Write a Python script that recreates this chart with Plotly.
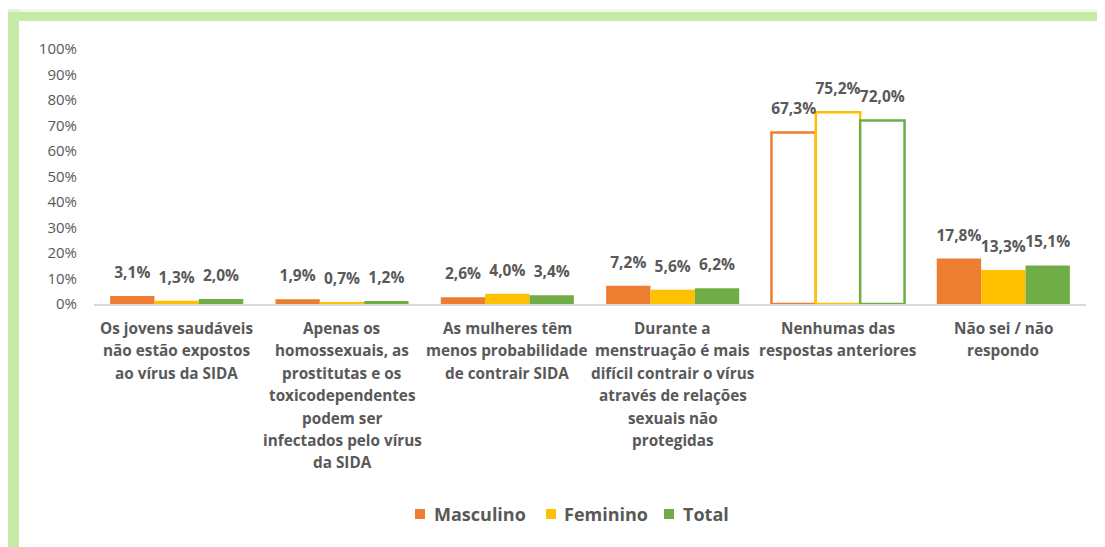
import plotly.graph_objects as go

categories = [
    "Os jovens saudáveis não estão expostos ao vírus da SIDA",
    "Apenas os homossexuais, as prostitutas e os toxicodependentes podem ser infectados pelo vírus da SIDA",
    "As mulheres têm menos probabilidade de contrair SIDA",
    "Durante a menstruação é mais difícil contrair o vírus através de relações sexuais não protegidas",
    "Nenhumas das respostas anteriores",
    "Não sei / não respondo",
]
category_lines = [
    ["Os jovens saudáveis", "não estão expostos", "ao vírus da SIDA"],
    ["Apenas os", "homossexuais, as", "prostitutas e os", "toxicodependentes", "podem ser", "infectados pelo vírus", "da SIDA"],
    ["As mulheres têm", "menos probabilidade", "de contrair SIDA"],
    ["Durante a", "menstruação é mais", "difícil contrair o vírus", "através de relações", "sexuais não", "protegidas"],
    ["Nenhumas das", "respostas anteriores"],
    ["Não sei / não", "respondo"],
]
series_names = ["Masculino", "Feminino", "Total"]
masculino = [3.1, 1.9, 2.6, 7.2, 67.3, 17.8]
feminino = [1.3, 0.7, 4.0, 5.6, 75.2, 13.3]
total = [2.0, 1.2, 3.4, 6.2, 72.0, 15.1]
tick_vals = [0, 10, 20, 30, 40, 50, 60, 70, 80, 90, 100]
tick_text = [f"{v}%" for v in tick_vals]

series_values = [masculino, feminino, total]
colors = ["#ED7D31", "#FFC000", "#70AD47"]
outlined_index = 4
gray = "#595959"
FONT = "Open Sans"

# page offset (body margin) and pixel layout in page coordinates
OFF = 8
W, H = 1105 - OFF, 547 - OFF
PL, PR, PT, PB = 94, 1086, 49, 304   # plot area in page pixels
ML, MT = PL - OFF, PT - OFF
MR = W - (PR - OFF)
MB = H - (PB - OFF)
PW = PR - PL
PH = PB - PT

def px_x(px):
    return (px - PL) / PW

def px_y(py):
    return (PB - py) / PH

fig = go.Figure()

for name, vals, col in zip(series_names, series_values, colors):
    fills = ["white" if i == outlined_index else col for i in range(len(vals))]
    lw = [2.5 if i == outlined_index else 0 for i in range(len(vals))]
    fig.add_trace(go.Bar(
        name=name, x=categories, y=vals,
        marker=dict(color=fills, line=dict(color=col, width=lw)),
        offsetgroup=name, alignmentgroup="a",
        showlegend=False, hoverinfo="skip",
    ))

for name, vals, col in zip(series_names, series_values, colors):
    fig.add_trace(go.Scatter(
        x=categories, y=vals, mode="markers+text",
        text=[f"{v:.1f}%".replace(".", ",") for v in vals],
        textposition="top center",
        textfont=dict(family=FONT, size=15.5, color=gray, weight="bold"),
        marker=dict(size=21, opacity=0),
        offsetgroup=name, alignmentgroup="a",
        showlegend=False, hoverinfo="skip", cliponaxis=False,
    ))

annotations = []
for cat, lines in zip(categories, category_lines):
    for i, line in enumerate(lines):
        annotations.append(dict(
            x=cat, y=0, xref="x", yref="paper", text=line, showarrow=False,
            yanchor="middle", xanchor="center", yshift=-24 - 22.4 * i,
            font=dict(family=FONT, size=15.3, color=gray, weight="bold"),
        ))

glow = "#C6EBA9"
shapes = [
    dict(type="rect", xref="paper", yref="paper", layer="below",
         x0=px_x(5), x1=px_x(1120), y0=px_y(9), y1=px_y(23),
         fillcolor=glow, opacity=0.3, line=dict(width=0)),
    dict(type="rect", xref="paper", yref="paper", layer="below",
         x0=px_x(5), x1=px_x(21), y0=px_y(9), y1=px_y(560),
         fillcolor=glow, opacity=0.3, line=dict(width=0)),
    dict(type="rect", xref="paper", yref="paper", layer="below",
         x0=px_x(8), x1=px_x(1120), y0=px_y(12), y1=px_y(21),
         fillcolor=glow, line=dict(width=0)),
    dict(type="rect", xref="paper", yref="paper", layer="below",
         x0=px_x(8), x1=px_x(19), y0=px_y(12), y1=px_y(560),
         fillcolor=glow, line=dict(width=0)),
    dict(type="rect", xref="paper", yref="paper", layer="below",
         x0=px_x(19), x1=px_x(1120), y0=px_y(21), y1=px_y(560),
         fillcolor="white", line=dict(width=0)),
]

# legend: colored squares + labels (page-pixel placement)
legend_square_x = [415, 546, 664]
legend_text_x = [432, 562, 681]
legend_y = 514
for name, col, sx, tx in zip(series_names, colors, legend_square_x, legend_text_x):
    shapes.append(dict(type="rect", xref="paper", yref="paper",
                       x0=px_x(sx), x1=px_x(sx + 10),
                       y0=px_y(legend_y - 5), y1=px_y(legend_y + 5),
                       fillcolor=col, line=dict(width=0)))
    annotations.append(dict(x=px_x(tx), y=px_y(legend_y), xref="paper", yref="paper",
                            text=name, showarrow=False, xanchor="left", yanchor="middle",
                            font=dict(family=FONT, size=18, color=gray, weight="bold")))

fig.update_layout(
    width=W, height=H,
    margin=dict(l=ML, r=MR, t=MT, b=MB, pad=0),
    paper_bgcolor="white", plot_bgcolor="rgba(0,0,0,0)",
    barmode="group", bargap=0.195, bargroupgap=0,
    scattermode="group", scattergap=0.195,
    xaxis=dict(showticklabels=False, showgrid=False, zeroline=False,
               showline=True, linecolor="#D9D9D9", linewidth=1.5, ticks=""),
    yaxis=dict(range=[0, 100], tickvals=tick_vals, ticktext=tick_text,
               showgrid=False, zeroline=False, showline=False,
               ticks="outside", ticklen=13, tickcolor="rgba(0,0,0,0)",
               tickfont=dict(family=FONT, size=15, color=gray)),
    annotations=annotations,
    shapes=shapes,
    showlegend=False,
)

fig.write_html("out.html")
